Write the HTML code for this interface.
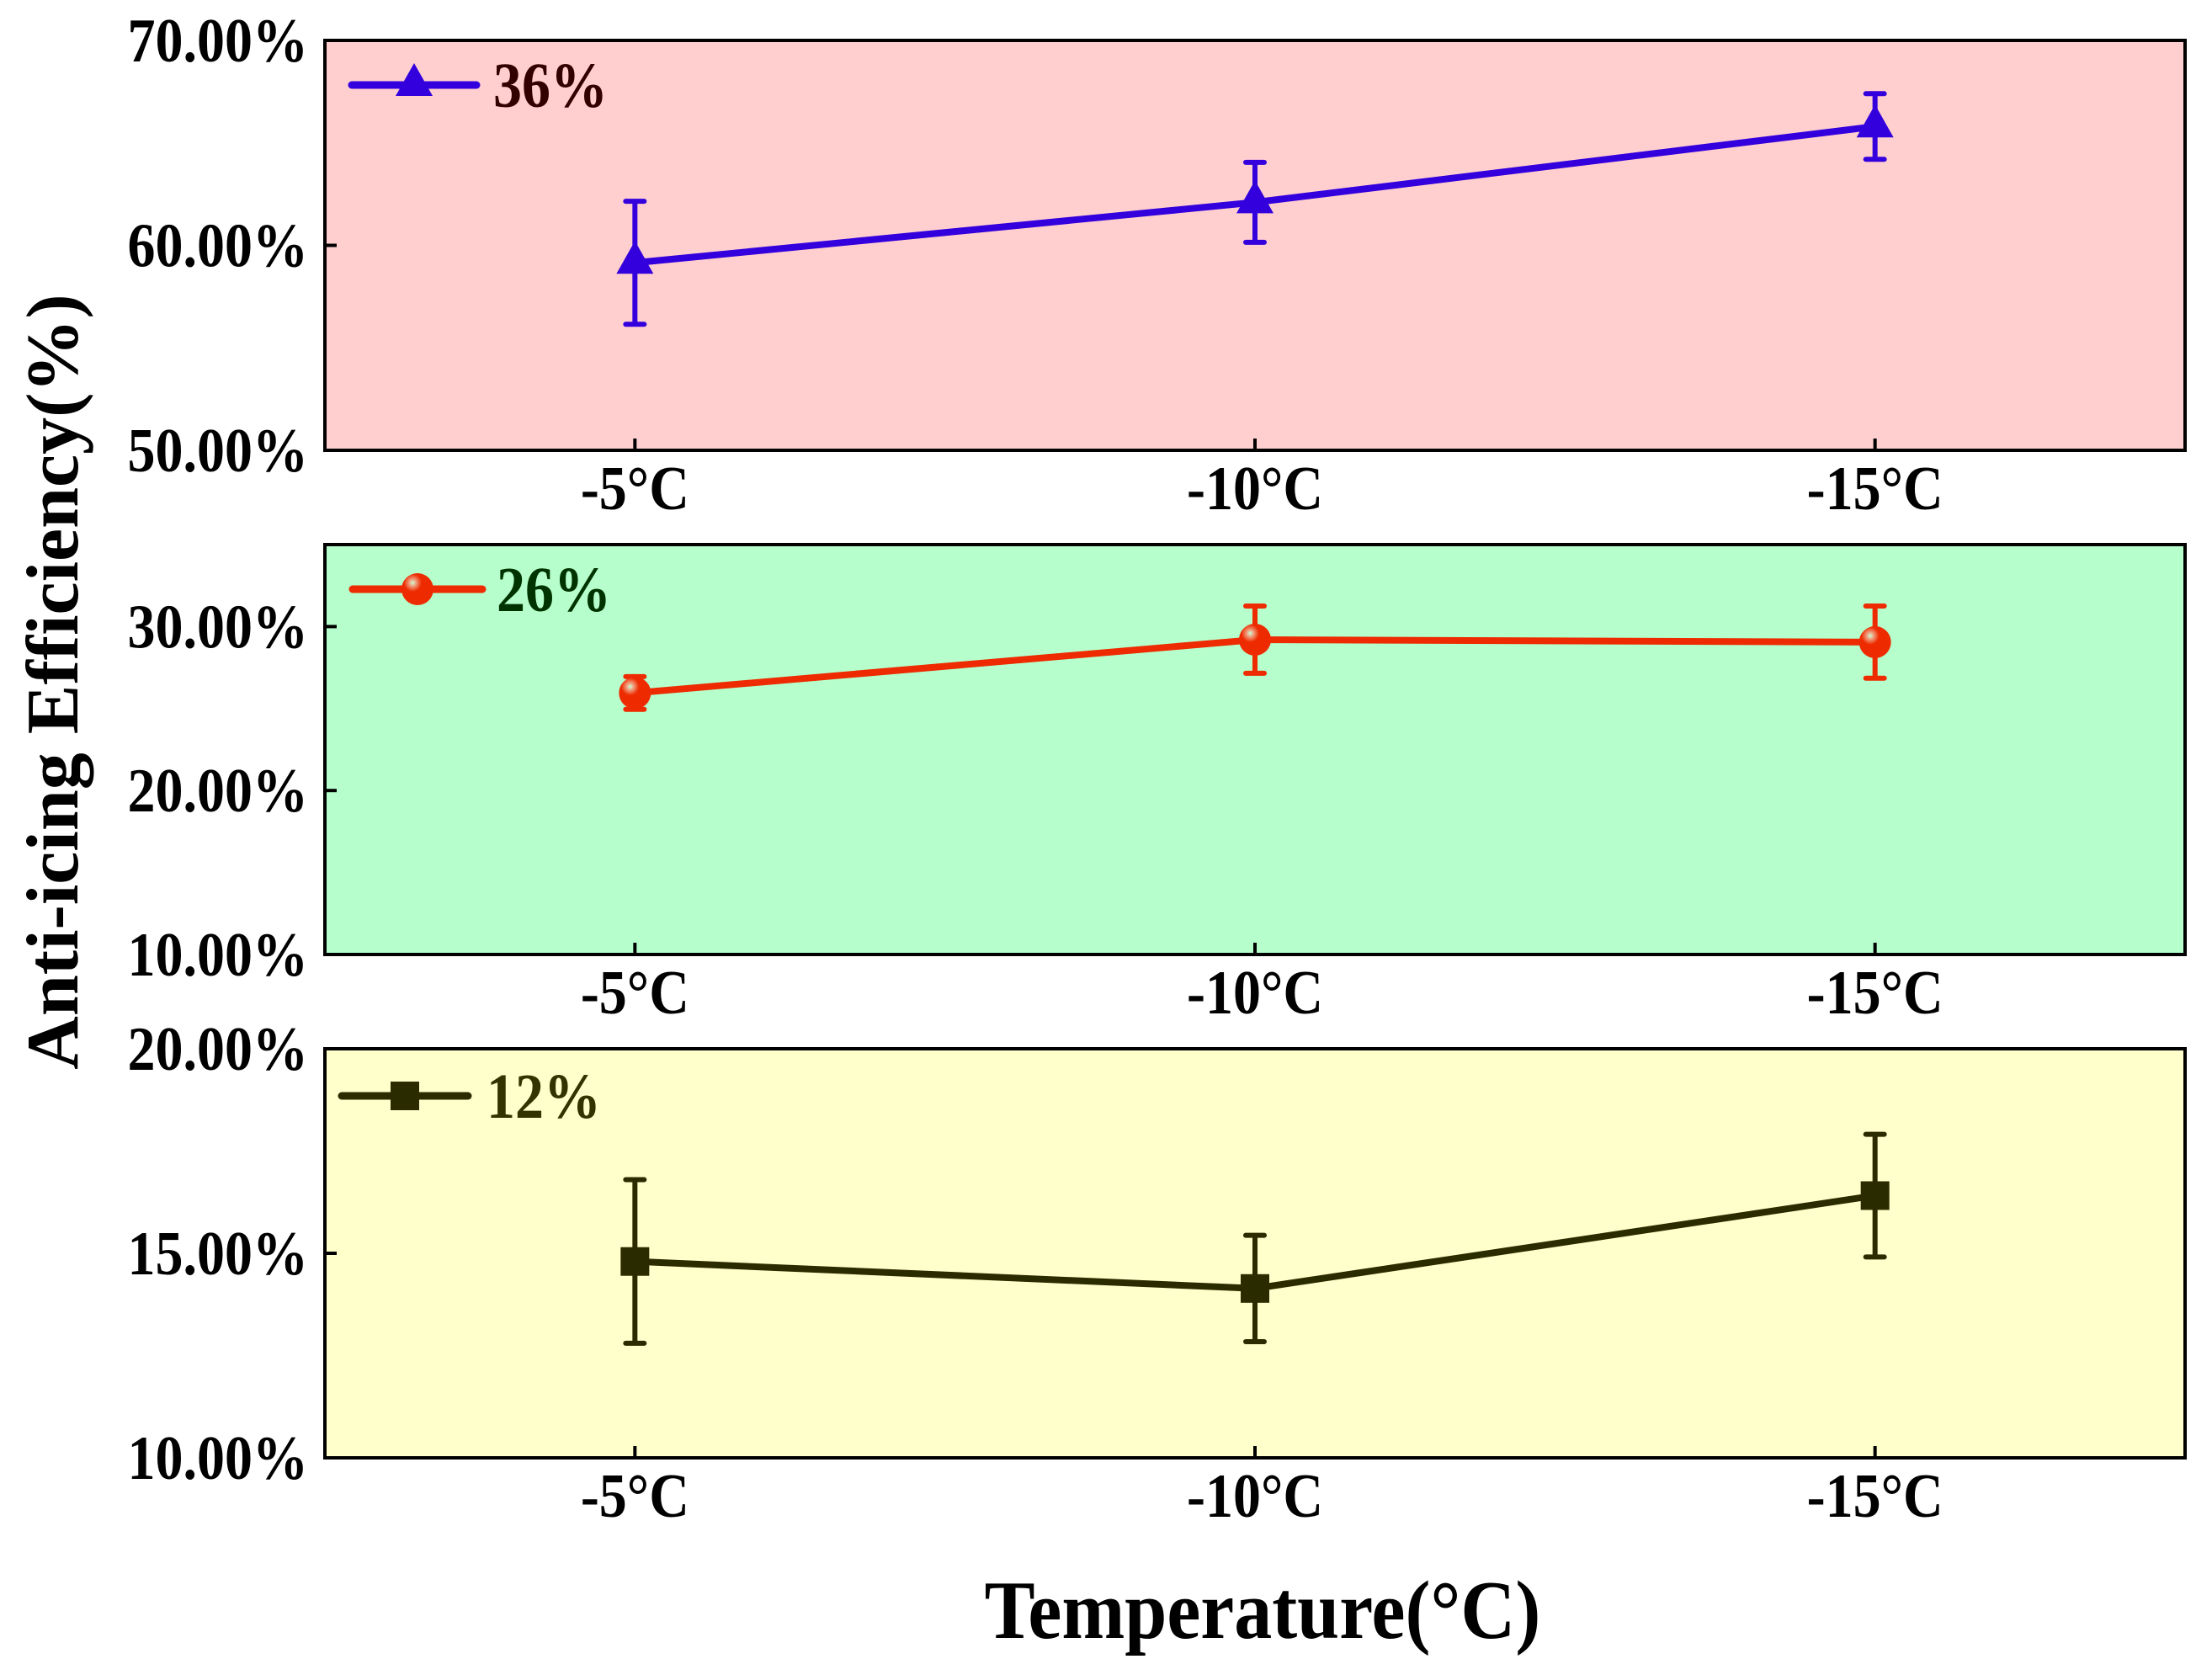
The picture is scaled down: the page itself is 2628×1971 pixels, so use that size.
<!DOCTYPE html>
<html><head><meta charset="utf-8"><style>
html,body{margin:0;padding:0;background:#fff}
svg{display:block}
text{font-family:"Liberation Serif",serif;font-weight:bold}
</style></head><body>
<svg id="chart" width="2628" height="1971" viewBox="0 0 2628 1971" xmlns="http://www.w3.org/2000/svg">
<defs>
<radialGradient id="ballGrad" cx="0.35" cy="0.3" r="0.7">
<stop offset="0" stop-color="#c8ffd8"/><stop offset="0.15" stop-color="#f0a080"/><stop offset="0.4" stop-color="#ee2a00"/><stop offset="1" stop-color="#ee2a00"/>
</radialGradient>
</defs>
<text x="0" y="0" transform="translate(92,810) rotate(-90)" text-anchor="middle" font-size="88">Anti-icing Efficiency(%)</text>
<text x="0" y="0" transform="translate(1500,1946) scale(1,1.1)" text-anchor="middle" font-size="90">Temperature(°C)</text>
</svg>
<script>
const categories = ["-5°C","-10°C","-15°C"];
const labels36 = "36%", labels26 = "26%", labels12 = "12%";
const values36 = [59.15, 62.1, 65.8];
const errors36 = [3.0, 1.95, 1.6];
const values26 = [25.95, 29.2, 29.05];
const errors26 = [1.0, 2.05, 2.2];
const values12 = [14.8, 14.14, 16.41];
const errors12 = [2.0, 1.3, 1.5];
const ticks36 = [50, 60, 70];
const ticks26 = [10, 20, 30];
const ticks12 = [10, 15, 20];

const NS = "http://www.w3.org/2000/svg";
const svg = document.getElementById('chart');
function mk(tag, attrs, parent){
  const e = document.createElementNS(NS, tag);
  for (const k in attrs) e.setAttribute(k, attrs[k]);
  (parent||svg).appendChild(e);
  return e;
}
const L = 386, R = 2596;
function xs(i){ return L + (i + 0.5) * (R - L) / 3; }

const panels = [
  {name:"36", top:48, bot:535, ymin:50, ymax:70, bg:"#ffcfcf", color:"#3300dd", vals:values36, errs:errors36, ticks:ticks36, label:labels36, lx1:418, lx2:566, ly:101, tx:586, tcol:"#330000", marker:"tri"},
  {name:"26", top:647, bot:1134, ymin:10, ymax:35, bg:"#b6ffcc", color:"#ee2a00", vals:values26, errs:errors26, ticks:ticks26, label:labels26, lx1:419, lx2:573, ly:700, tx:590, tcol:"#003300", marker:"ball"},
  {name:"12", top:1246, bot:1732, ymin:10, ymax:20, bg:"#ffffcc", color:"#2b2b00", vals:values12, errs:errors12, ticks:ticks12, label:labels12, lx1:406, lx2:556, ly:1302, tx:578, tcol:"#333300", marker:"sq"}
];

function drawMarker(g, type, x, y, color){
  let m;
  if (type === "tri") {
    m = mk('polygon', {points:`${x},${y-26} ${x-22},${y+13} ${x+22},${y+13}`, fill:color}, g);
  } else if (type === "ball") {
    m = mk('circle', {cx:x, cy:y, r:19, fill:"url(#ballGrad)"}, g);
  } else {
    m = mk('rect', {x:x-17, y:y-17, width:34, height:34, fill:color}, g);
  }
  return m;
}

panels.forEach(p => {
  const ys = v => p.bot - (v - p.ymin) / (p.ymax - p.ymin) * (p.bot - p.top);
  const g = mk('g', {});
  
  
  const bg = mk('rect', {x:L, y:p.top, width:R-L, height:p.bot-p.top, fill:p.bg}, g);
  
  
  p.ticks.forEach(t => {
    const y = ys(t);
    const tk = mk('line', {x1:L, x2:L+14, y1:y, y2:y, stroke:"#000", 'stroke-width':4}, g);
    
    
    const tl = mk('text', {x:0, y:0, transform:`translate(366,${y+25}) scale(1,1.12)`, 'text-anchor':'end', 'font-size':66}, g);
    tl.textContent = t.toFixed(2) + '%';
    
    
  });
  categories.forEach((c, i) => {
    const x = xs(i);
    const tk = mk('line', {x1:x, x2:x, y1:p.bot, y2:p.bot-14, stroke:"#000", 'stroke-width':4}, g);
    
    
    const tl = mk('text', {x:0, y:0, transform:`translate(${x},${p.bot+70}) scale(1,1.12)`, 'text-anchor':'middle', 'font-size':66}, g);
    tl.textContent = c;
    
    
  });
  const pts = p.vals.map((v, i) => xs(i) + ',' + ys(v)).join(' ');
  const ln = mk('polyline', {points:pts, fill:'none', stroke:p.color, 'stroke-width':8, 'stroke-linejoin':'round'}, g);
  
  
  p.vals.forEach((v, i) => {
    const x = xs(i), y1 = ys(v + p.errs[i]), y2 = ys(v - p.errs[i]);
    const eb = mk('path', {d:`M${x},${y1}V${y2}M${x-11},${y1}H${x+11}M${x-11},${y2}H${x+11}`, stroke:p.color, 'stroke-width':6, 'stroke-linecap':'round', fill:'none'}, g);
    
    
    const m = drawMarker(g, p.marker, x, ys(v), p.color);
    
    
  });
  const fr = mk('rect', {x:L, y:p.top, width:R-L, height:p.bot-p.top, fill:'none', stroke:'#000', 'stroke-width':4}, g);
  
  
  const lg = mk('g', {}, g);
  
  
  mk('line', {x1:p.lx1, x2:p.lx2, y1:p.ly, y2:p.ly, stroke:p.color, 'stroke-width':9, 'stroke-linecap':'round'}, lg);
  drawMarker(lg, p.marker, (p.lx1 + p.lx2) / 2, p.ly, p.color);
  const lt = mk('text', {x:0, y:0, transform:`translate(${p.tx},${p.ly+26}) scale(1,1.12)`, 'font-size':68, fill:p.tcol}, lg);
  lt.textContent = p.label;
  
  
});
</script>
</body></html>
